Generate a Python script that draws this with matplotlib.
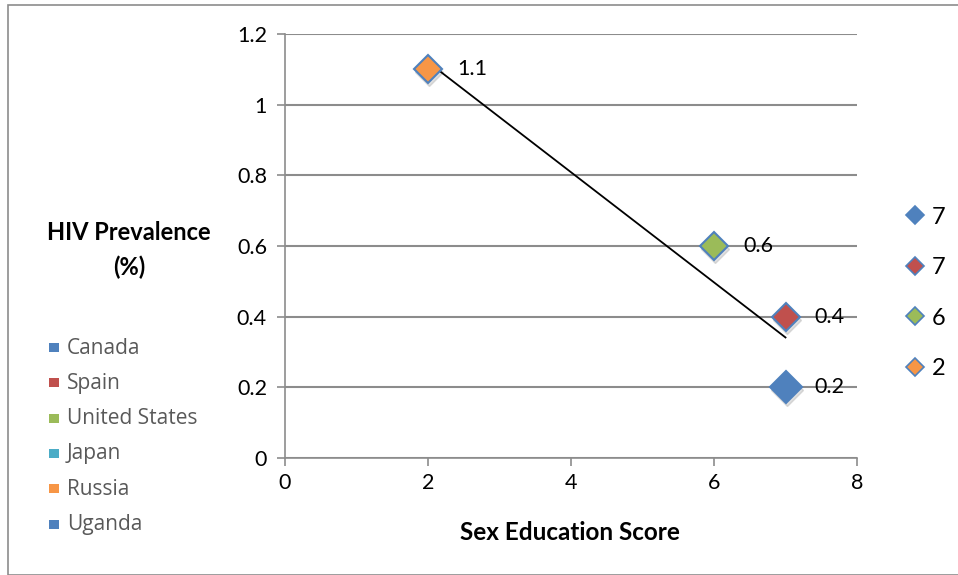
import numpy as np
import matplotlib
import matplotlib.pyplot as plt
from matplotlib.patches import Rectangle
from matplotlib.lines import Line2D

plt.rcParams['font.family'] = ['Lato', 'DejaVu Sans']

# Data
series_names = ["7", "7", "6", "2"]
x_scores = [7, 7, 6, 2]
y_prev = [0.2, 0.4, 0.6, 1.1]
series_colors = ["#4F81BD", "#C0504D", "#9BBB59", "#F79646"]
countries = ["Canada", "Spain", "United States", "Japan", "Russia", "Uganda"]
country_colors = ["#4F81BD", "#C0504D", "#9BBB59", "#4BACC6", "#F79646", "#4F81BD"]
yticks = [0, 0.2, 0.4, 0.6, 0.8, 1, 1.2]
ytick_labels = ["0", "0.2", "0.4", "0.6", "0.8", "1", "1.2"]
xticks = [0, 2, 4, 6, 8]

W, H = 958, 575
fig = plt.figure(figsize=(W / 100, H / 100), dpi=100)

# outer border
fig.patches.append(Rectangle((8 / W, 0), 1.0, 1 - 5 / H, transform=fig.transFigure,
                             fill=False, edgecolor="#8c8c8c", linewidth=1.2))

ax = fig.add_axes([285 / W, 1 - 458 / H, (857 - 285) / W, (458 - 34) / H])
ax.set_xlim(0, 8)
ax.set_ylim(0, 1.2)
ax.set_yticks(yticks)
ax.set_yticklabels(ytick_labels)
ax.set_xticks(xticks)
ax.grid(axis='y', color="#8c8c8c", linewidth=1.5)
ax.set_axisbelow(True)
for s in ["top", "right"]:
    ax.spines[s].set_visible(False)
for s in ["left", "bottom"]:
    ax.spines[s].set_color("#8c8c8c")
    ax.spines[s].set_linewidth(1.2)
ax.tick_params(axis='both', colors="#8c8c8c", labelcolor="black", labelsize=15.5, length=6, width=1.2)
ax.tick_params(axis='y', pad=7)
ax.tick_params(axis='x', pad=5)

# trendline
coef = np.polyfit(x_scores, y_prev, 1)
xt = np.array([min(x_scores), max(x_scores)])
ax.plot(xt, np.polyval(coef, xt), color="black", linewidth=1.3, zorder=3)

shadow = ax.transData + matplotlib.transforms.ScaledTranslation(1 / 100, -3 / 100, fig.dpi_scale_trans)
# points
for i, (x, y, c) in enumerate(zip(x_scores, y_prev, series_colors)):
    ms = 16.5 if i == 0 else 14
    ax.plot([x], [y], marker='D', markersize=ms, color="#9a9a9a", alpha=0.3,
            linestyle='none', zorder=2, transform=shadow)
    ax.plot([x], [y], marker='D', markersize=ms, markerfacecolor=c,
            markeredgecolor="#4F81BD", markeredgewidth=1.5, linestyle='none', zorder=4)
    ax.annotate(f"{y:g}", (x, y), xytext=(21, 0), textcoords='offset points',
                va='center', ha='left', fontsize=15.5, zorder=5)

# right legend
handles = [Line2D([], [], marker='D', linestyle='none', markersize=9,
                  markerfacecolor=c, markeredgecolor="#4F81BD", markeredgewidth=1.2)
           for c in series_colors]
fig.legend(handles, series_names, loc='center left', bbox_to_anchor=(895 / W, 1 - 293 / H),
           frameon=False, fontsize=17, handlelength=0.9, handletextpad=0.25,
           labelspacing=1.25, borderaxespad=0)

# left legend (country list)
ly0 = 348
for i, (name, c) in enumerate(zip(countries, country_colors)):
    yy = 1 - (ly0 + i * 35.3) / H
    fig.patches.append(Rectangle((49 / W, yy - 4 / H), 10 / W, 9 / H, transform=fig.transFigure,
                                 facecolor=c, edgecolor='none'))
    fig.text(67 / W, yy, name, fontsize=15, color="#595959", va='center', ha='left',
             family=['Open Sans', 'DejaVu Sans'])

# axis labels
fig.text(129 / W, 1 - 250 / H, "HIV Prevalence\n(%)", fontsize=17, fontweight='bold',
         ha='center', va='center', linespacing=1.55)
fig.text(570 / W, 1 - 532 / H, "Sex Education Score", fontsize=17.5, fontweight='bold',
         ha='center', va='center')

fig.savefig("out.png", dpi=100)
